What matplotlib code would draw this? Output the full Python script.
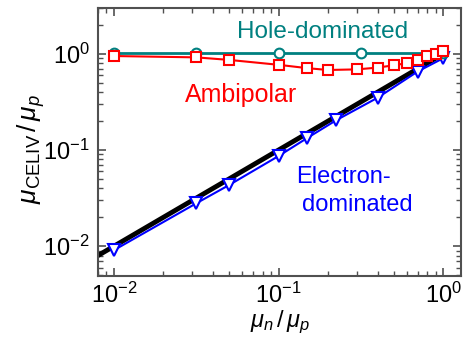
import matplotlib
matplotlib.use("Agg")
import matplotlib.pyplot as plt
import numpy as np

plt.rcParams['font.family'] = ['Liberation Sans', 'DejaVu Sans']
plt.rcParams['mathtext.fontset'] = 'custom'
plt.rcParams['mathtext.rm'] = 'Liberation Sans'
plt.rcParams['mathtext.it'] = 'Liberation Sans:italic'
plt.rcParams['mathtext.bf'] = 'Liberation Sans:bold'

# data
hole_x = [0.01, 0.0316, 0.1, 0.316, 1.0]
hole_y = [1.02, 1.02, 1.02, 1.02, 1.02]

amb_x = [0.01, 0.0316, 0.05, 0.1, 0.15, 0.2, 0.3, 0.4, 0.5, 0.6, 0.7, 0.8, 0.9, 1.0]
amb_y = [0.95, 0.92, 0.866, 0.77, 0.71, 0.68, 0.69, 0.72, 0.76, 0.80, 0.866, 0.94, 1.0, 1.06]

elec_x = [0.01, 0.0316, 0.05, 0.1, 0.15, 0.225, 0.4, 0.7, 1.0]
elec_y = [0.0091, 0.0279, 0.0432, 0.0866, 0.134, 0.205, 0.35, 0.655, 0.90]

ref_x = [0.008, 1.0]
ref_y = [0.008, 1.0]

W, H = 466, 347
fig = plt.figure(figsize=(W / 100, H / 100), dpi=100)
ax = fig.add_axes([98 / W, 1 - 276 / H, 363 / W, 268 / H])

ax.plot(ref_x, ref_y, color='black', lw=3.5, zorder=2)
ax.plot(elec_x, elec_y, color='#0000ff', lw=1.5, marker='v', ms=9, mfc='white', mec='#0000ff', mew=1.5, zorder=3)
ax.plot(hole_x, hole_y, color='#008080', lw=2, marker='o', ms=7, mfc='white', mec='#008080', mew=1.5, zorder=3)
ax.plot(amb_x, amb_y, color='#ff0000', lw=1.5, marker='s', ms=7.5, mfc='white', mec='#ff0000', mew=1.5, zorder=4)

ax.set_xscale('log')
ax.set_yscale('log')
ax.set_xlim(0.0080, 1.285)
ax.set_ylim(0.0049, 3.0)

for s in ax.spines.values():
    s.set_color('#505050')
    s.set_linewidth(1.5)
ax.tick_params(which='both', direction='in', top=True, right=True, colors='#505050', labelcolor='black', labelsize=17)
ax.tick_params(which='major', length=6, width=1.2)
ax.tick_params(which='minor', length=3.5, width=1.0)
ax.tick_params(axis='y', which='both', pad=6)
ax.tick_params(axis='x', which='both', pad=5)

ax.set_xlabel(r'$\mu_n\,/\,\mu_p$', fontsize=17, labelpad=0)
ax.set_ylabel(r'$\mu_{\rm CELIV}\,/\,\mu_p$', fontsize=19)
ax.yaxis.set_label_coords(-0.140, 0.472)

def px(x, y):
    return x / W, 1 - y / H

ax.text(*px(236.7, 38.3), 'Hole-dominated', color='#008080', fontsize=17.5, ha='left', va='baseline', transform=fig.transFigure)
ax.text(*px(185, 101.7), 'Ambipolar', color='#ff0000', fontsize=18, ha='left', va='baseline', transform=fig.transFigure)
ax.text(*px(296, 182.7), 'Electron-', color='#0000ff', fontsize=17, ha='left', va='baseline', transform=fig.transFigure)
ax.text(*px(301.7, 210.7), 'dominated', color='#0000ff', fontsize=17, ha='left', va='baseline', transform=fig.transFigure)

fig.savefig('out.png', dpi=100)
